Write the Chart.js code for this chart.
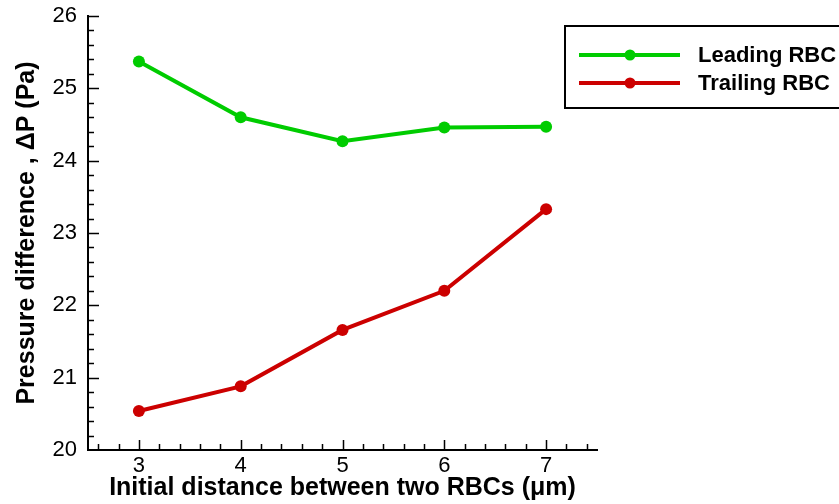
<!DOCTYPE html>
<html>
<head>
<meta charset="utf-8">
<script src="https://cdn.jsdelivr.net/npm/chart.js@4.4.1/dist/chart.umd.min.js"></script>
<style>
  body { margin: 0; background: #fff; }
  canvas { display: block; }
</style>
</head>
<body>
<canvas id="pressureChart" width="839" height="504"></canvas>
<script>
// Initial distance between the two cells (um)
const distances = [3, 4, 5, 6, 7];
// Pressure difference for each cell (Pa)
const leadingRBC = [25.37, 24.60, 24.27, 24.46, 24.47];
const trailingRBC = [20.54, 20.88, 21.66, 22.20, 23.33];
const xTicks = [3, 4, 5, 6, 7];
const yTicks = [20, 21, 22, 23, 24, 25, 26];

const GREEN = '#00cc00';
const RED = '#cc0000';
const FONT = "'Liberation Sans', Arial, sans-serif";

function toPoints(values) {
    return distances.map((d, i) => ({ x: d, y: values[i] }));
}

// Inward tick marks, major on whole numbers and minor every 0.2
const insideTicks = {
    id: 'insideTicks',
    afterDraw(chart) {
        const ctx = chart.ctx;
        const { left, bottom } = chart.chartArea;
        const xs = chart.scales.x;
        const ys = chart.scales.y;
        ctx.save();
        ctx.strokeStyle = '#000';
        ctx.lineWidth = 1.5;
        ctx.beginPath();
        for (let k = 13; k <= 37; k++) {
            const v = k / 5;
            const major = k % 5 === 0;
            const px = Math.round(xs.getPixelForValue(v)) + 0.5;
            ctx.moveTo(px, bottom);
            ctx.lineTo(px, bottom - (major ? 10 : 6));
        }
        for (let k = 101; k <= 130; k++) {
            const v = k / 5;
            const major = k % 5 === 0;
            const py = Math.round(ys.getPixelForValue(v)) + 0.5;
            ctx.moveTo(left, py);
            ctx.lineTo(left + (major ? 11 : 6), py);
        }
        ctx.stroke();
        ctx.restore();
    }
};

// Boxed legend at the upper right
const boxLegend = {
    id: 'boxLegend',
    afterDraw(chart) {
        const ctx = chart.ctx;
        const { right, top } = chart.chartArea;
        const bx = right - 32, by = top + 10;
        ctx.save();
        ctx.strokeStyle = '#000';
        ctx.lineWidth = 2;
        ctx.strokeRect(bx, by, 300, 82);
        chart.data.datasets.forEach((ds, i) => {
            const y = by + 29 + i * 28;
            ctx.strokeStyle = ds.borderColor;
            ctx.lineWidth = 4;
            ctx.beginPath();
            ctx.moveTo(bx + 14, y);
            ctx.lineTo(bx + 115, y);
            ctx.stroke();
            ctx.fillStyle = ds.borderColor;
            ctx.beginPath();
            ctx.arc(bx + 65, y, 5.5, 0, Math.PI * 2);
            ctx.fill();
            ctx.fillStyle = '#000';
            ctx.font = 'bold 22px ' + FONT;
            ctx.textAlign = 'left';
            ctx.textBaseline = 'middle';
            ctx.fillText(ds.label, bx + 133, y + 1);
        });
        ctx.restore();
    }
};

const ctx = document.getElementById('pressureChart').getContext('2d');
new Chart(ctx, {
    type: 'line',
    data: {
        datasets: [{
            label: 'Leading RBC',
            data: toPoints(leadingRBC),
            borderColor: GREEN,
            backgroundColor: GREEN,
            borderWidth: 4,
            pointRadius: 6,
            pointBorderWidth: 0,
            pointBackgroundColor: GREEN,
            tension: 0
        }, {
            label: 'Trailing RBC',
            data: toPoints(trailingRBC),
            borderColor: RED,
            backgroundColor: RED,
            borderWidth: 4,
            pointRadius: 6,
            pointBorderWidth: 0,
            pointBackgroundColor: RED,
            tension: 0
        }]
    },
    options: {
        responsive: false,
        animation: false,
        layout: { padding: { left: 0, right: 242, top: 16, bottom: 0 } },
        plugins: {
            legend: { display: false },
            tooltip: { enabled: false }
        },
        scales: {
            x: {
                type: 'linear',
                min: 2.5,
                max: 7.5,
                afterBuildTicks: s => { s.ticks = xTicks.map(v => ({ value: v })); },
                afterFit: s => { s.height = 54; s.paddingLeft = 0; s.paddingRight = 0; },
                grid: { display: false, drawTicks: false },
                border: { display: true, color: '#000', width: 2 },
                ticks: {
                    color: '#000',
                    padding: 3,
                    font: { family: FONT, size: 22 }
                },
                title: {
                    display: true,
                    text: 'Initial distance between two RBCs (\u03bcm)',
                    color: '#000',
                    padding: { top: 0, bottom: 1 },
                    font: { family: FONT, size: 25, weight: 'bold' }
                }
            },
            y: {
                type: 'linear',
                min: 20,
                max: 26,
                afterBuildTicks: s => { s.ticks = yTicks.map(v => ({ value: v })); },
                afterFit: s => { s.width = 88; s.paddingTop = 0; s.paddingBottom = 0; },
                grid: { display: false, drawTicks: false },
                border: { display: true, color: '#000', width: 2 },
                ticks: {
                    color: '#000',
                    padding: 11,
                    font: { family: FONT, size: 22 }
                },
                title: {
                    display: true,
                    text: 'Pressure difference , \u0394P (Pa)',
                    color: '#000',
                    padding: { top: 12, bottom: 0 },
                    font: { family: FONT, size: 25, weight: 'bold' }
                }
            }
        }
    },
    plugins: [insideTicks, boxLegend]
});
</script>
</body>
</html>
